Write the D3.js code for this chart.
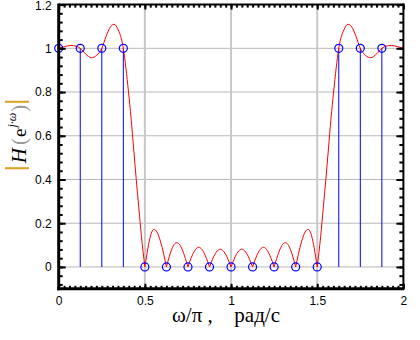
<!DOCTYPE html>
<html><head><meta charset="utf-8">
<script src="https://cdn.jsdelivr.net/npm/d3@7"></script>
<style>body{margin:0;background:#fff}svg{display:block}</style>
</head><body>
<svg id="chart" width="420" height="340"></svg>
<script>
// ---- data ----
const sampleW = [0, 0.125, 0.25, 0.375, 0.5, 0.625, 0.75, 0.875, 1.0, 1.125, 1.25, 1.375, 1.5, 1.625, 1.75, 1.875];
const sampleH = [1, 1, 1, 1, 0, 0, 0, 0, 0, 0, 0, 0, 0, 1, 1, 1];
const curveW = [
  0, 0.035, 0.07, 0.1, 0.125, 0.155, 0.19, 0.22, 0.25, 0.275, 0.3, 0.321, 0.345, 0.375, 0.39, 0.405, 0.42, 0.435, 0.45, 0.465, 0.48, 0.5,
  0.51, 0.525, 0.54, 0.553, 0.57, 0.59, 0.61, 0.625,
  0.635, 0.65, 0.67, 0.685, 0.70, 0.72, 0.74, 0.75,
  0.76, 0.775, 0.795, 0.8125, 0.83, 0.85, 0.865, 0.875,
  0.885, 0.9, 0.92, 0.9375, 0.955, 0.975, 0.99, 1.0,
  1.01, 1.025, 1.045, 1.0625, 1.08, 1.1, 1.115, 1.125,
  1.135, 1.15, 1.17, 1.1875, 1.205, 1.225, 1.24, 1.25,
  1.26, 1.28, 1.30, 1.315, 1.33, 1.35, 1.365, 1.375,
  1.39, 1.41, 1.43, 1.447, 1.46, 1.475, 1.49, 1.5,
  1.52, 1.535, 1.55, 1.565, 1.58, 1.595, 1.61, 1.625, 1.655, 1.679, 1.70, 1.725, 1.75, 1.78, 1.81, 1.845, 1.875, 1.9, 1.93, 1.965, 2.0
];
const curveH = [
  1.0, 1.008, 1.013, 1.010, 1.0, 0.975, 0.957, 0.968, 1.0, 1.055, 1.098, 1.110, 1.085, 1.0, 0.91, 0.80, 0.68, 0.54, 0.40, 0.27, 0.14, 0,
  0.05, 0.117, 0.16, 0.172, 0.16, 0.118, 0.056, 0,
  0.029, 0.068, 0.103, 0.111, 0.104, 0.073, 0.026, 0,
  0.023, 0.053, 0.081, 0.090, 0.081, 0.053, 0.023, 0,
  0.020, 0.048, 0.073, 0.081, 0.073, 0.048, 0.020, 0,
  0.020, 0.048, 0.073, 0.081, 0.073, 0.048, 0.020, 0,
  0.023, 0.053, 0.081, 0.090, 0.081, 0.053, 0.023, 0,
  0.026, 0.073, 0.104, 0.111, 0.103, 0.068, 0.029, 0,
  0.056, 0.118, 0.16, 0.172, 0.16, 0.117, 0.05, 0,
  0.14, 0.27, 0.40, 0.54, 0.68, 0.80, 0.91, 1.0, 1.085, 1.110, 1.098, 1.055, 1.0, 0.968, 0.957, 0.975, 1.0, 1.010, 1.013, 1.008, 1.0
];
const xTicks = [0, 0.5, 1, 1.5, 2];
const xTickLabels = ["0", "0.5", "1", "1.5", "2"];
const yTicks = [0, 0.2, 0.4, 0.6, 0.8, 1, 1.2];
const yTickLabels = ["0", "0.2", "0.4", "0.6", "0.8", "1", "1.2"];
const xGrid = [0.5, 1, 1.5];
const yGrid = [0, 0.2, 0.4, 0.6, 0.8, 1.0];
const xMinor = d3.range(0, 64).map(i => i / 32).filter(v => v > 0);
const yMinor = d3.range(-2, 31).map(i => i * 0.04).filter(v => v > -0.1 && v < 1.2);
const xTitleA = "ω/π ,";
const xTitleB = "рад/с";

// ---- scales ----
const L = 58.7, R = 403.4, T = 4.6, B = 288.8;
const x = d3.scaleLinear().domain([0, 2]).range([L, R]);
const y = d3.scaleLinear().domain([-0.1, 1.2]).range([B, T]);

const svg = d3.select("#chart");

// grid
svg.append("g").selectAll("line").data(yGrid).join("line")
  .attr("x1", L).attr("x2", R).attr("y1", d => y(d)).attr("y2", d => y(d))
  .attr("stroke", "#b8b8b8").attr("stroke-width", 1);
svg.append("g").selectAll("line").data(xGrid).join("line")
  .attr("x1", d => x(d)).attr("x2", d => x(d)).attr("y1", T).attr("y2", B)
  .attr("stroke", "#c8c8c8").attr("stroke-width", 2);

// stems
const samples = sampleW.map((w, i) => ({ w, h: sampleH[i] }));
svg.append("g").selectAll("line").data(samples.filter(d => d.h !== 0)).join("line")
  .attr("x1", d => x(d.w)).attr("x2", d => x(d.w))
  .attr("y1", y(0)).attr("y2", d => y(d.h))
  .attr("stroke", "#0000ff").attr("stroke-width", 1);

// curve segments split at zeros
const pts = curveW.map((w, i) => ({ w, h: curveH[i] }));
const segs = [];
let cur = [];
pts.forEach(p => {
  cur.push(p);
  if (p.h === 0 && cur.length > 1) { segs.push(cur); cur = [p]; }
});
if (cur.length > 1) segs.push(cur);
const line = d3.line().x(d => x(d.w)).y(d => y(d.h)).curve(d3.curveMonotoneX);
svg.append("g").selectAll("path").data(segs).join("path")
  .attr("d", line).attr("fill", "none").attr("stroke", "#ff0000").attr("stroke-width", 1);

// circles
svg.append("g").selectAll("circle").data(samples).join("circle")
  .attr("cx", d => x(d.w)).attr("cy", d => y(d.h)).attr("r", 4)
  .attr("fill", "none").attr("stroke", "#0000ff").attr("stroke-width", 1.2);

// axes (ticks inward)
function styleAxis(g) {
  g.select(".domain").remove();
  g.selectAll(".tick line").attr("stroke", "#000").attr("stroke-width", 2);
  g.selectAll(".tick text").attr("font-family", "'Liberation Sans', Arial, sans-serif").attr("font-size", 12).attr("fill", "#000");
}
// left
svg.append("g").attr("transform", `translate(${L},0)`)
  .call(d3.axisLeft(y).tickValues(yMinor).tickFormat("").tickSizeInner(-4).tickSizeOuter(0)).call(styleAxis);
const yAx = svg.append("g").attr("transform", `translate(${L},0)`)
  .call(d3.axisLeft(y).tickValues(yTicks).tickFormat((d, i) => yTickLabels[i]).tickSizeInner(-7).tickSizeOuter(0).tickPadding(7)).call(styleAxis);
yAx.selectAll(".tick text").filter(d => d === 1.2).attr("dy", "0.42em");
// right
svg.append("g").attr("transform", `translate(${R},0)`)
  .call(d3.axisRight(y).tickValues(yMinor).tickFormat("").tickSizeInner(-4).tickSizeOuter(0)).call(styleAxis);
svg.append("g").attr("transform", `translate(${R},0)`)
  .call(d3.axisRight(y).tickValues(yTicks).tickFormat("").tickSizeInner(-7).tickSizeOuter(0)).call(styleAxis);
// bottom
svg.append("g").attr("transform", `translate(0,${B})`)
  .call(d3.axisBottom(x).tickValues(xMinor).tickFormat("").tickSizeInner(-3).tickSizeOuter(0)).call(styleAxis);
svg.append("g").attr("transform", `translate(0,${B})`)
  .call(d3.axisBottom(x).tickValues(xTicks).tickFormat((d, i) => xTickLabels[i]).tickSizeInner(-5).tickSizeOuter(0).tickPadding(8)).call(styleAxis);
// top
svg.append("g").attr("transform", `translate(0,${T})`)
  .call(d3.axisTop(x).tickValues(xMinor).tickFormat("").tickSizeInner(-3).tickSizeOuter(0)).call(styleAxis);
svg.append("g").attr("transform", `translate(0,${T})`)
  .call(d3.axisTop(x).tickValues(xTicks).tickFormat("").tickSizeInner(-5).tickSizeOuter(0)).call(styleAxis);

// frame
svg.append("line").attr("x1", L).attr("x2", L).attr("y1", T - 1).attr("y2", B + 1.5).attr("stroke", "#000").attr("stroke-width", 3);
svg.append("line").attr("x1", L - 1.5).attr("x2", R + 1).attr("y1", B).attr("y2", B).attr("stroke", "#000").attr("stroke-width", 3);
svg.append("line").attr("x1", R).attr("x2", R).attr("y1", T - 1).attr("y2", B).attr("stroke", "#000").attr("stroke-width", 2);
svg.append("line").attr("x1", L).attr("x2", R + 1).attr("y1", T).attr("y2", T).attr("stroke", "#000").attr("stroke-width", 2);

// x title
const serif = "'Liberation Serif', 'Times New Roman', serif";
svg.append("text").attr("x", 172).attr("y", 322)
  .attr("font-family", serif).attr("font-size", 21).attr("fill", "#000").text(xTitleA);
svg.append("text").attr("x", 280).attr("y", 322).attr("text-anchor", "end")
  .attr("font-family", serif).attr("font-size", 21).attr("fill", "#000").text(xTitleB);

// y title
const yt = svg.append("g").attr("transform", "translate(26,134) rotate(-90)");
const t = yt.append("text").attr("text-anchor", "middle")
  .attr("font-family", serif).attr("font-size", 21).attr("fill", "#000");
t.append("tspan").attr("font-style", "italic").text("H");
t.append("tspan").attr("fill", "#999").attr("dx", 3).text("(");
t.append("tspan").attr("font-size", 19).attr("dx", 1).text("e");
t.append("tspan").attr("font-size", 12).attr("font-style", "italic").attr("dy", -10).attr("dx", 1).text("j·ω");
t.append("tspan").attr("fill", "#999").attr("dy", 10).attr("dx", 1).text(")");
const bb = t.node().getBBox();
[bb.x - 4, bb.x + bb.width + 3].forEach(xx => {
  yt.append("line").attr("x1", xx).attr("x2", xx).attr("y1", -21).attr("y2", 3)
    .attr("stroke", "#e0a020").attr("stroke-width", 2);
});
</script>
</body></html>
